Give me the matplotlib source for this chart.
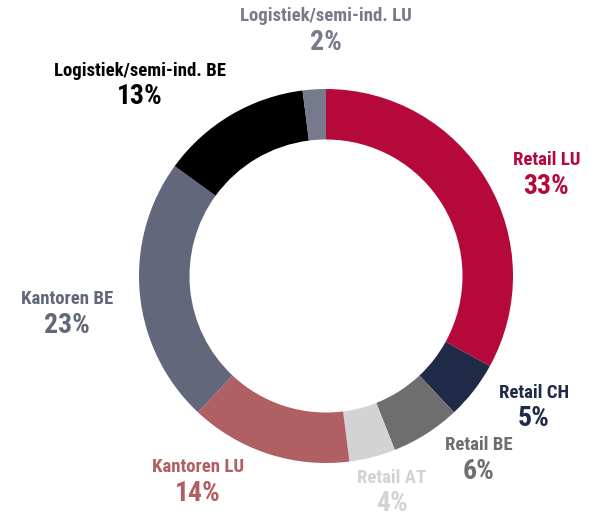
import numpy as np
import matplotlib.pyplot as plt

labels = ['Retail LU', 'Retail CH', 'Retail BE', 'Retail AT',
          'Kantoren LU', 'Kantoren BE', 'Logistiek/semi-ind. BE', 'Logistiek/semi-ind. LU']
values = [33, 5, 6, 4, 14, 23, 13, 2]
colors = ['#B5093B', '#1F2A47', '#6E6E6E', '#D3D3D3',
          '#B06063', '#63677C', '#000000', '#767A8C']

# label placement: angle (deg, math convention) and distance in radii
label_angles = [25, -32, -50, -73, -122, 188, 134, 90]
label_dists = [1.30, 1.31, 1.27, 1.20, 1.29, 1.40, 1.43, 1.32]

plt.rcParams['font.family'] = ['Roboto Condensed', 'Barlow Semi Condensed', 'DejaVu Sans']

fig = plt.figure(figsize=(5.98, 5.15), dpi=100)
ax = fig.add_axes([0, 0, 1, 1])
ax.pie(values, colors=colors, startangle=90, counterclock=False, radius=1.0,
       wedgeprops=dict(width=0.27, edgecolor='none'))

for lab, v, c, a, d in zip(labels, values, colors, label_angles, label_dists):
    x = d * np.cos(np.radians(a))
    y = d * np.sin(np.radians(a))
    ax.text(x, y + 0.07, lab, color=c, fontsize=13.5, fontweight='bold', ha='center', va='center')
    ax.text(x, y - 0.07, f'{v}%', color=c, fontsize=20, fontweight='bold', ha='center', va='center')

ax.set_xlim(-326 / 187, 272 / 187)
ax.set_ylim(-239 / 187, 276 / 187)
ax.set_aspect('auto')
ax.axis('off')
fig.savefig('out.png', dpi=100)
